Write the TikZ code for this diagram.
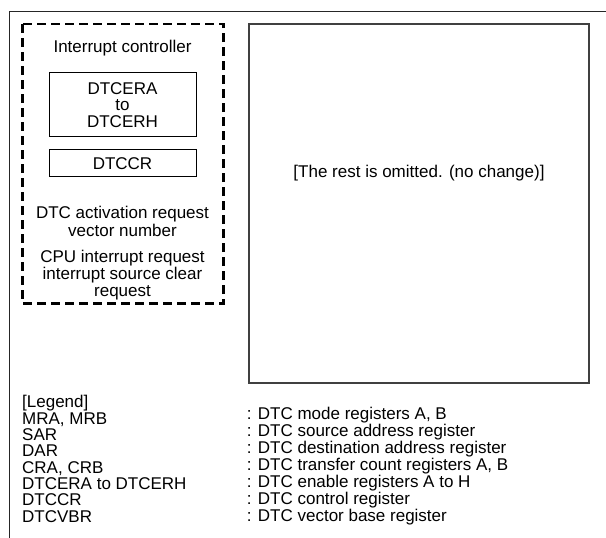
\documentclass[tikz,border=0pt]{standalone}
\usepackage{fontspec}
\setmainfont{Liberation Sans}

\tikzset{
  regbox/.style={draw,line width=1pt,minimum width=147pt,align=center},
  txt/.style={align=center}
}

\begin{document}
\begin{tikzpicture}[x=1pt,y=-1pt,every node/.style={font=\fontsize{17}{16.5}\selectfont,inner sep=0pt}]
  \useasboundingbox (0,0) rectangle (606,538);
  % sheet frame
  \draw[line width=1pt,black!85] (606,11.5) -- (9,11.5) -- (9,538);
  % interrupt controller
  \draw[line width=2.2pt,dash pattern=on 9pt off 5pt] (22.5,24) rectangle (223.5,303.5);
  \node[txt] (ictitle) at (122.5,48.3) {Interrupt controller};
  \node[regbox,minimum height=64pt] (dtcer) at (122.5,104.7) {DTCERA\\to\\DTCERH};
  \node[regbox,minimum height=26.7pt] (dtccr) at (122.5,163.3) {DTCCR};
  \node[txt,font=\fontsize{17}{17.3}\selectfont] (actreq) at (122.5,221.3) {DTC activation request\\vector number};
  \node[txt,font=\fontsize{17}{17}\selectfont] (cpureq) at (122.5,275) {CPU interrupt request\\interrupt source clear\\request};
  % rest of the block diagram
  \draw[line width=1.3pt,black!75] (249,24) rectangle (589,383);
  \node (omit) at (419,173.3) {[The rest is omitted. (no change)]};
  % legend
  \node[anchor=base west] (legend) at (22,407.7) {[Legend]};
  \foreach \reg/\desc [count=\i] in {{MRA, MRB}/{DTC mode registers A, B},
      SAR/DTC source address register,
      DAR/DTC destination address register,
      {CRA, CRB}/{DTC transfer count registers A, B},
      DTCERA to DTCERH/DTC enable registers A to H,
      DTCCR/DTC control register,
      DTCVBR/DTC vector base register}{
    \node[anchor=base west] (key\i) at (22,407.7+16.33*\i) {\reg};
    \node[anchor=base west] (desc\i) at (246.7,402+17*\i) {: \desc};
  }
\end{tikzpicture}
\end{document}
